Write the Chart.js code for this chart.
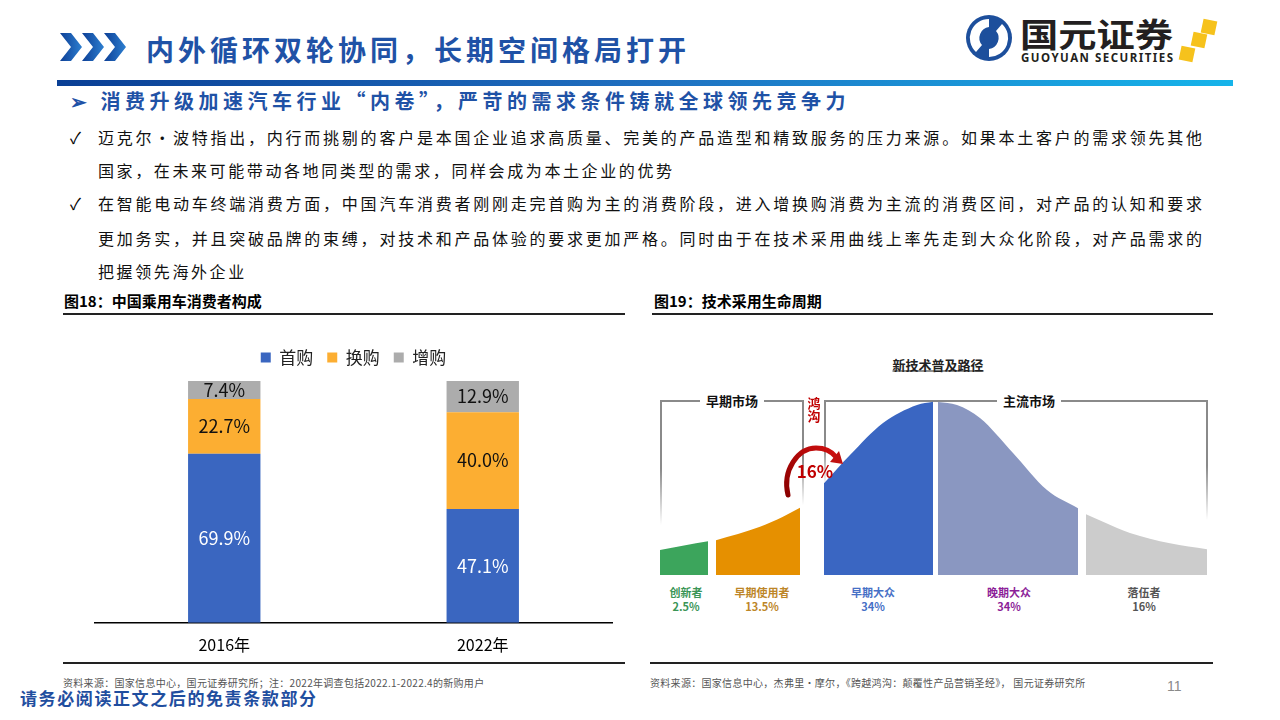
<!DOCTYPE html>
<html lang="zh-CN">
<head>
<meta charset="utf-8">
<title>内外循环双轮协同，长期空间格局打开</title>
<script src="https://cdn.jsdelivr.net/npm/chart.js@4.4.1/dist/chart.umd.min.js"></script>
<style>
  html, body { margin: 0; padding: 0; background: #fff; }
  body {
    width: 1280px; height: 720px; position: relative; overflow: hidden;
    font-family: "Noto Sans CJK SC", "Noto Sans", sans-serif; color: #000;
  }
  .abs { position: absolute; white-space: nowrap; }
  .mid { transform: translateY(-50%); }
  .ctr { transform: translate(-50%, -50%); text-align: center; }

  #title { left: 146px; top: 49px; font-size: 28px; font-weight: 700; color: #1f52a6; letter-spacing: 4px; }
  #topbar { left: 57px; top: 80px; width: 1176px; height: 6px;
            background: linear-gradient(90deg, #0a3f95 0%, #1f6fc0 50%, #16b4ea 100%); }
  #subtitle { left: 70px; top: 100px; font-size: 20px; font-weight: 700; color: #1f52a6; letter-spacing: 4.5px; }

  .bullet { left: 70px; font-size: 16px; }
  .line { left: 98px; font-size: 16px; letter-spacing: 2.6px; color: #111; }
  .full { width: 1104px; white-space: normal; text-align: justify; text-align-last: justify; letter-spacing: 0; }

  .figtitle { font-size: 15px; font-weight: 700; top: 300px; }
  .rule { height: 2px; background: #222; }
  .source { font-size: 10px; color: #555; top: 682px; letter-spacing: 0.3px; }

  #footer { left: 20px; top: 697px; font-size: 17px; font-weight: 700; color: #1f4e9f; letter-spacing: 1.6px; }

  #leftChart { position: absolute; left: 63px; top: 335px; }
  #rightChart { position: absolute; left: 660px; top: 395px; }

  .bracketH { height: 1.5px; background: #8a8a8a; }
  .bracketV { width: 1.5px; background: linear-gradient(180deg, #8a8a8a 0%, #8a8a8a 55%, rgba(138,138,138,0) 100%); }
  .market { font-size: 13px; font-weight: 700; background: #fff; padding: 0 6px; color: #111; }
  .grp { font-size: 11px; font-weight: 700; line-height: 14px; }
</style>
</head>
<body>

<!-- 页眉 -->
<svg class="abs" style="left:60px;top:33px" width="70" height="28" viewBox="0 0 70 28">
  <defs>
    <linearGradient id="chev" x1="0" x2="1" y1="0" y2="0">
      <stop offset="0" stop-color="#0d3f96"/><stop offset="1" stop-color="#2d7fd0"/>
    </linearGradient>
  </defs>
  <polygon points="0,0 11,0 22,14 11,28 0,28 11,14" fill="url(#chev)"/>
  <polygon points="22,0 33,0 44,14 33,28 22,28 33,14" fill="url(#chev)"/>
  <polygon points="44,0 55,0 66,14 55,28 44,28 55,14" fill="url(#chev)"/>
</svg>
<div id="title" class="abs mid">内外循环双轮协同，长期空间格局打开</div>

<svg class="abs" style="left:964px;top:12px" width="270" height="56" viewBox="0 0 270 56">
  <circle cx="25" cy="26" r="23" fill="#1d4f9c"/>
  <path d="M25 7 A19 19 0 0 0 12 40 L18 33 A11 11 0 0 1 25 15 Z" fill="#fff"/>
  <path d="M25 45 A19 19 0 0 0 38 12 L32 19 A11 11 0 0 1 25 37 Z" fill="#fff"/>
  <polygon points="25,17 31,26 25,35 19,26" fill="#1d4f9c"/>
  <text x="56" y="35" font-size="33" font-weight="700" fill="#231f20" font-family="Noto Sans CJK SC" textLength="153" lengthAdjust="spacingAndGlyphs">国元证券</text>
  <text x="57" y="50" font-size="11.5" font-weight="700" fill="#231f20" font-family="Noto Sans" textLength="152">GUOYUAN SECURITIES</text>
  <rect x="238" y="8" width="14" height="14" fill="#f6c21c" transform="rotate(12 245 15)"/>
  <rect x="228" y="21" width="14" height="14" fill="#f6c21c" transform="rotate(12 235 28)"/>
  <rect x="216" y="35" width="14" height="14" fill="#f6c21c" transform="rotate(12 223 42)"/>
</svg>

<div id="topbar" class="abs"></div>
<div id="subtitle" class="abs mid">➢ 消费升级加速汽车行业“内卷”，严苛的需求条件铸就全球领先竞争力</div>

<!-- 正文 -->
<div class="abs mid bullet" style="top:137px">✓</div>
<div class="abs mid line full" style="top:137px">迈克尔·波特指出，内行而挑剔的客户是本国企业追求高质量、完美的产品造型和精致服务的压力来源。如果本土客户的需求领先其他</div>
<div class="abs mid line" style="top:170px">国家，在未来可能带动各地同类型的需求，同样会成为本土企业的优势</div>
<div class="abs mid bullet" style="top:203px">✓</div>
<div class="abs mid line full" style="top:203px">在智能电动车终端消费方面，中国汽车消费者刚刚走完首购为主的消费阶段，进入增换购消费为主流的消费区间，对产品的认知和要求</div>
<div class="abs mid line full" style="top:238px">更加务实，并且突破品牌的束缚，对技术和产品体验的要求更加严格。同时由于在技术采用曲线上率先走到大众化阶段，对产品需求的</div>
<div class="abs mid line" style="top:271px">把握领先海外企业</div>

<!-- 图18 -->
<div class="abs mid figtitle" style="left:64px">图18：中国乘用车消费者构成</div>
<div class="abs rule" style="left:63px;top:313px;width:562px"></div>
<canvas id="leftChart" width="562" height="325"></canvas>
<div class="abs rule" style="left:63px;top:662px;width:562px"></div>
<div class="abs mid source" style="left:63px">资料来源：国家信息中心，国元证券研究所；注：2022年调查包括2022.1-2022.4的新购用户</div>

<!-- 图19 -->
<div class="abs mid figtitle" style="left:654px">图19：技术采用生命周期</div>
<div class="abs rule" style="left:652px;top:313px;width:561px"></div>

<div class="abs ctr" style="left:938px;top:364px;font-size:13px;font-weight:700;text-decoration:underline;color:#222">新技术普及路径</div>

<div class="abs bracketH" style="left:660px;top:400px;width:143px"></div>
<div class="abs bracketV" style="left:660px;top:400px;height:125px"></div>
<div class="abs bracketV" style="left:802px;top:400px;height:105px"></div>
<div class="abs ctr market" style="left:732px;top:400px">早期市场</div>

<div class="abs bracketH" style="left:824px;top:400px;width:384px"></div>
<div class="abs bracketV" style="left:824px;top:400px;height:85px"></div>
<div class="abs bracketV" style="left:1206px;top:400px;height:120px"></div>
<div class="abs ctr market" style="left:1029px;top:400px">主流市场</div>

<canvas id="rightChart" width="547" height="180"></canvas>

<div class="abs ctr" style="left:814px;top:409px;font-size:13px;font-weight:700;color:#c00000;line-height:13px;white-space:normal;width:14px">鸿沟</div>
<svg class="abs" style="left:780px;top:440px" width="70" height="60" viewBox="0 0 70 60">
  <defs>
    <linearGradient id="arc" x1="0" x2="1" y1="1" y2="0">
      <stop offset="0" stop-color="#8a0000"/><stop offset="1" stop-color="#d01010"/>
    </linearGradient>
  </defs>
  <path d="M8 55 C2 30 18 8 36 8 C46 8 52 12 56 17" fill="none" stroke="url(#arc)" stroke-width="5" stroke-linecap="round"/>
  <polygon points="50,22 63,24 59,11" fill="#c01010"/>
</svg>
<div class="abs ctr" style="left:815px;top:470px;font-size:17px;font-weight:700;color:#c00000">16%</div>

<div class="abs ctr grp" style="left:686px;top:599px;color:#3a9556">创新者<br>2.5%</div>
<div class="abs ctr grp" style="left:762px;top:599px;color:#bd8628">早期使用者<br>13.5%</div>
<div class="abs ctr grp" style="left:873px;top:599px;color:#4670c6">早期大众<br>34%</div>
<div class="abs ctr grp" style="left:1009px;top:599px;color:#8c1e98">晚期大众<br>34%</div>
<div class="abs ctr grp" style="left:1144px;top:599px;color:#555">落伍者<br>16%</div>

<div class="abs rule" style="left:650px;top:662px;width:563px"></div>
<div class="abs mid source" style="left:650px">资料来源：国家信息中心，杰弗里·摩尔，《跨越鸿沟：颠覆性产品营销圣经》， 国元证券研究所</div>
<div class="abs mid" style="left:1167px;top:686px;font-size:14px;color:#8a8a8a;font-family:'Liberation Sans'">11</div>

<div id="footer" class="abs mid">请务必阅读正文之后的免责条款部分</div>

<script>
  // 图18 数据（%）
  const years = ['2016年', '2022年'];
  const firstBuy = [69.9, 47.1];
  const replaceBuy = [22.7, 40.0];
  const addBuy = [7.4, 12.9];

  // 图19 曲线读数：[横向位置, 高度]
  const innovators = [[0, 25], [24, 29.5], [48, 33.7]];
  const earlyAdopters = [[56, 34.7], [100, 48.3], [123, 58.3], [140, 67.3]];
  const earlyMajority = [[164, 91.7], [190, 120], [223, 152], [257, 170], [273, 173.3]];
  const lateMajority = [[278, 173], [297, 170], [320, 157], [353, 122], [387, 85], [418, 66.7]];
  const laggards = [[426, 60.7], [443, 53.3], [470, 42], [510, 31.7], [547, 25.7]];

  const toPoints = arr => arr.map(([x, y]) => ({ x, y }));

  // 在柱子中间写数值
  const barValueLabels = {
    id: 'barValueLabels',
    afterDatasetsDraw(chart) {
      const { ctx } = chart;
      ctx.save();
      ctx.font = '18px "Noto Sans CJK SC"';
      ctx.textAlign = 'center';
      ctx.textBaseline = 'middle';
      chart.data.datasets.forEach((ds, i) => {
        chart.getDatasetMeta(i).data.forEach((bar, j) => {
          ctx.fillStyle = ds.labelColor;
          ctx.fillText(ds.data[j].toFixed(1) + '%', bar.x, (bar.y + bar.base) / 2);
        });
      });
      ctx.restore();
    }
  };

  // 图例和柱子之间留空
  const legendGap = {
    id: 'legendGap',
    beforeInit(chart) {
      const fit = chart.legend.fit;
      chart.legend.fit = function () {
        fit.bind(chart.legend)();
        this.height += 5;
      };
    }
  };

  new Chart(document.getElementById('leftChart'), {
    type: 'bar',
    data: {
      labels: years,
      datasets: [
        { label: '首购', data: firstBuy, backgroundColor: '#3a66c0', labelColor: '#fff' },
        { label: '换购', data: replaceBuy, backgroundColor: '#fcae32', labelColor: '#111' },
        { label: '增购', data: addBuy, backgroundColor: '#acacac', labelColor: '#111' }
      ]
    },
    options: {
      responsive: false,
      animation: false,
      devicePixelRatio: 1,
      categoryPercentage: 0.28,
      barPercentage: 1,
      layout: { padding: { left: 32, right: 13, top: 0, bottom: 0 } },
      plugins: {
        legend: {
          position: 'top',
          labels: {
            boxWidth: 10, boxHeight: 10, padding: 14, color: '#222',
            font: { size: 17, family: 'Noto Sans CJK SC' }
          }
        },
        tooltip: { enabled: false }
      },
      scales: {
        x: {
          stacked: true,
          grid: { display: false },
          border: { display: true, color: '#000', width: 1.5 },
          ticks: { color: '#000', padding: 5, font: { size: 16, family: 'Noto Sans CJK SC' } }
        },
        y: { stacked: true, display: false, min: 0, max: 100 }
      }
    },
    plugins: [barValueLabels, legendGap]
  });

  const segment = (data, color) => ({
    data: toPoints(data),
    backgroundColor: color,
    borderWidth: 0,
    pointRadius: 0,
    fill: 'origin',
    cubicInterpolationMode: 'monotone'
  });

  new Chart(document.getElementById('rightChart'), {
    type: 'line',
    data: {
      datasets: [
        segment(innovators, '#3ca55c'),
        segment(earlyAdopters, '#e69000'),
        segment(earlyMajority, '#3a66c2'),
        segment(lateMajority, '#8a97c1'),
        segment(laggards, '#cccccc')
      ]
    },
    options: {
      responsive: false,
      animation: false,
      devicePixelRatio: 1,
      layout: { padding: 0 },
      plugins: { legend: { display: false }, tooltip: { enabled: false } },
      scales: {
        x: { type: 'linear', display: false, min: 0, max: 547 },
        y: { display: false, min: 0, max: 180 }
      }
    }
  });
</script>
</body>
</html>
